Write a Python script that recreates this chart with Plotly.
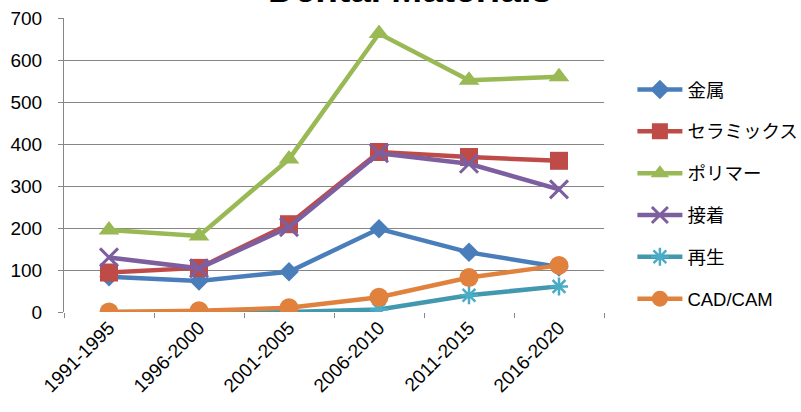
import plotly.graph_objects as go

categories = ["1991-1995", "1996-2000", "2001-2005", "2006-2010", "2011-2015", "2016-2020"]
y_ticks = [0, 100, 200, 300, 400, 500, 600, 700]

metal = [84, 74, 96, 198, 142, 107]
ceramics = [94, 105, 209, 381, 369, 360]
polymer = [195, 181, 364, 663, 552, 560]
adhesive = [130, 104, 202, 378, 353, 292]
regeneration = [0, 0, 0, 6, 40, 61]
cadcam = [0, 3, 10, 35, 82, 111]

series = [
    ("金属", metal, "#4A7EBB", "diamond", 15, 0, None),
    ("セラミックス", ceramics, "#BE4B48", "square", 18, 0, None),
    ("ポリマー", polymer, "#98B954", "triangle-up", 18, 0, None),
    ("接着", adhesive, "#7D5FA0", "x-thin", 18, 3, "#7D5FA0"),
    ("再生", regeneration, "#4198AF", "asterisk", 15, 2.5, "#4BACC6"),
    ("CAD/CAM", cadcam, "#E0823D", "circle", 19, 0, None),
]

font_family = "Liberation Sans, Noto Sans CJK JP, sans-serif"

fig = go.Figure()
for name, vals, color, symbol, size, mlw, mlc in series:
    marker = dict(symbol=symbol, size=size, color=color)
    if mlw:
        marker["line"] = dict(width=mlw, color=mlc)
    else:
        marker["line"] = dict(width=0)
    fig.add_trace(go.Scatter(
        x=categories, y=vals, name=name, mode="lines+markers",
        line=dict(color=color, width=4.5), marker=marker,
        legendgroup=name,
    ))

fig.update_layout(
    width=801, height=412,
    margin=dict(l=64, r=197, t=18, b=100, autoexpand=False),
    paper_bgcolor="white", plot_bgcolor="white",
    font=dict(family=font_family, size=19, color="#000000"),
    showlegend=True,
    legend=dict(
        x=1.0526, xanchor="left", y=0.40, yanchor="middle",
        font=dict(size=18.5, family=font_family, color="#000000"),
        tracegroupgap=14.8, itemwidth=45,
        bgcolor="rgba(0,0,0,0)",
    ),
    annotations=[dict(
        text="<b>Dental Materials</b>", xref="paper", yref="paper",
        x=0.64, y=1.02, xanchor="center", yanchor="bottom",
        showarrow=False, font=dict(size=37, family=font_family, color="#000000"),
    )],
)

fig.update_xaxes(
    type="category", tickangle=-45, tickson="boundaries",
    ticks="outside", ticklen=5, tickcolor="#868686",
    showline=False, showgrid=False, zeroline=False,
    tickfont=dict(size=19, color="#000000"),
    range=[-0.5, 5.5],
)
fig.update_yaxes(
    range=[0, 700], tickvals=y_ticks, ticks="outside", ticklen=5,
    tickcolor="#868686", showline=True, linecolor="#868686", linewidth=1,
    showgrid=True, gridcolor="#868686", gridwidth=1, zeroline=False,
    tickfont=dict(size=19, color="#000000"), ticklabelstandoff=12,
)

fig.write_html("out.html")
